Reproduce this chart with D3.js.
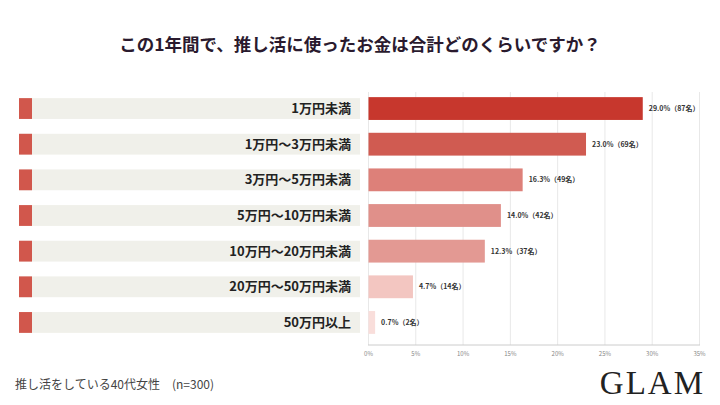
<!DOCTYPE html><html><head><meta charset="utf-8"><script src="https://cdn.jsdelivr.net/npm/d3@7"></script>
<style>body{margin:0;background:#fff}</style></head><body><svg id="c" width="720" height="405"></svg>
<script>
const categories=["1万円未満","1万円～3万円未満","3万円～5万円未満","5万円～10万円未満","10万円～20万円未満","20万円～50万円未満","50万円以上"];
const values=[29.0,23.0,16.3,14.0,12.3,4.7,0.7];
const counts=[87,69,49,42,37,14,2];
const colors=["#c7372d","#d05b51","#dd8079","#e0908a","#e39993","#f3c6c1","#f9dedb"];
const ticks=[0,5,10,15,20,25,30,35];
const svg=d3.select("#c");
const F="'Noto Sans CJK JP',sans-serif";
svg.append("text").attr("x",360).attr("y",51).attr("text-anchor","middle").attr("font-family",F).attr("font-weight",700).attr("font-size",17.5).attr("fill","#2a1a2e").text("この1年間で、推し活に使ったお金は合計どのくらいですか？");
const x=d3.scaleLinear().domain([0,35]).range([368.5,699.5]);
const y=d3.scaleBand().domain(categories).range([90,341]).paddingInner(0.36).paddingOuter(0.2);
svg.append("g").selectAll("line").data(ticks).join("line").attr("x1",d=>x(d)).attr("x2",d=>x(d)).attr("y1",92).attr("y2",345).attr("stroke","#e8e8e8");
svg.append("line").attr("x1",368).attr("x2",700).attr("y1",345).attr("y2",345).attr("stroke","#ccc");
svg.append("g").selectAll("text").data(ticks).join("text").attr("x",d=>x(d)).attr("y",356).attr("text-anchor","middle").attr("font-family",F).attr("font-size",6).attr("fill","#888").text(d=>d+"%");
const g=svg.append("g");
categories.forEach((c,i)=>{
 const yy=y(c),h=y.bandwidth();
 g.append("rect").attr("x",20).attr("y",yy+1).attr("width",340).attr("height",h-2).attr("fill","#f0f0ea");
 g.append("rect").attr("x",19).attr("y",yy+1).attr("width",13).attr("height",h-2).attr("fill","#d1574c");
 g.append("text").attr("x",351).attr("y",yy+h/2).attr("dy","0.35em").attr("text-anchor","end").attr("font-family",F).attr("font-weight",700).attr("font-size",13).attr("fill","#222").text(c);
 g.append("rect").attr("x",x(0)).attr("y",yy).attr("width",x(values[i])-x(0)).attr("height",h).attr("fill",colors[i]);
 g.append("text").attr("x",x(values[i])+6).attr("y",yy+h/2).attr("dy","0.35em").attr("font-family",F).attr("font-weight",700).attr("font-size",7).attr("fill","#333").text(values[i].toFixed(1)+"%（"+counts[i]+"名）");
});
svg.append("text").attr("x",15).attr("y",389).attr("font-family",F).attr("font-size",12).attr("fill","#444").text("推し活をしている40代女性　(n=300)");
svg.append("text").attr("x",705).attr("y",394).attr("text-anchor","end").attr("font-family","'Liberation Serif',serif").attr("font-size",33).attr("letter-spacing",2).attr("fill","#222").text("GLAM");
</script></body></html>
